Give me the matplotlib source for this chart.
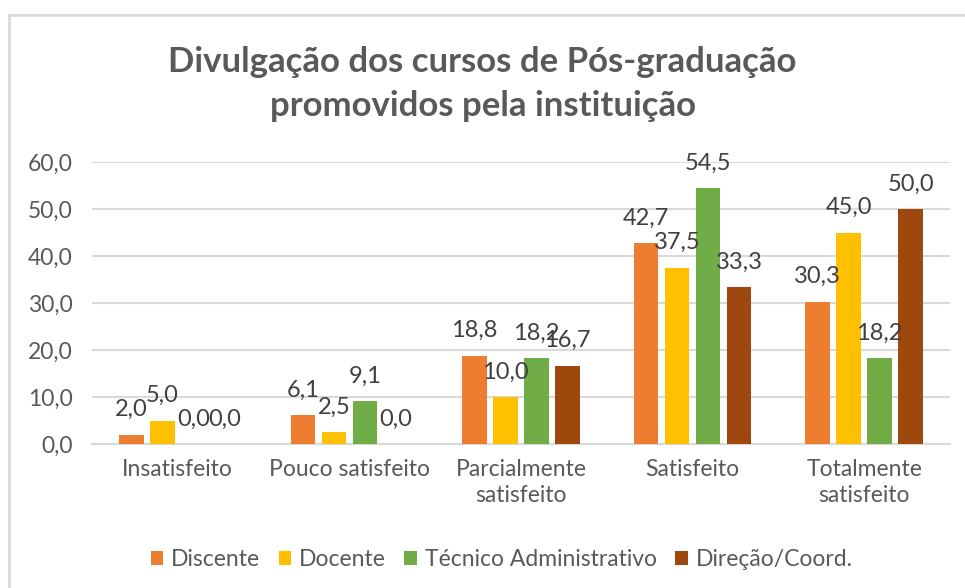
import numpy             as np
import matplotlib.pyplot as plt

from matplotlib.lines import Line2D

CATEGORIAS = ['Insatisfeito', 'Pouco satisfeito', 'Parcialmente\nsatisfeito',
              'Satisfeito', 'Totalmente\nsatisfeito']

DISCENTE  = [2.0, 6.1, 18.8, 42.7, 30.3]
DOCENTE   = [5.0, 2.5, 10.0, 37.5, 45.0]
TECNICO   = [0.0, 9.1, 18.2, 54.5, 18.2]
DIRECAO   = [0.0, 0.0, 16.7, 33.3, 50.0]

SERIES    = ['Discente', 'Docente', 'Técnico Administrativo', 'Direção/Coord.']
CORES     = ['#ED7D31', '#FFC000', '#70AD47', '#9E480E']

Y_TICKS   = [0, 10, 20, 30, 40, 50, 60]

TITULO    = 'Divulgação dos cursos de Pós-graduação\npromovidos pela instituição'

TEXTO_COR = '#595959'
LABEL_COR = '#404040'
GRADE_COR = '#D9D9D9'

FONTE     = 16.5

plt.rcParams['font.family'] = ['Lato', 'DejaVu Sans']


def fmt(v):
    return f'{v:.1f}'.replace('.', ',')


def plot_chart():

    fig = plt.figure(figsize=(9.65, 5.88), dpi=100)
    ax  = fig.add_axes([92 / 965, 1 - 444 / 588, (950 - 92) / 965, (444 - 162) / 588])

    valores = [DISCENTE, DOCENTE, TECNICO, DIRECAO]
    x       = np.arange(len(CATEGORIAS))
    passo   = 0.1805
    largura = 0.143

    for i, (serie, vals, cor) in enumerate(zip(SERIES, valores, CORES)):
        pos  = x + (i - 1.5) * passo
        bars = ax.bar(pos, vals, width=largura, color=cor, label=serie, zorder=3)
        for b, v in zip(bars, vals):
            ax.annotate(
                fmt(v),
                xy         = (b.get_x() + b.get_width() / 2, v),
                xytext     = (0, 18),
                textcoords = 'offset points',
                ha         = 'center',
                va         = 'center',
                fontsize   = 17,
                color      = LABEL_COR,
                zorder     = 4
            )

    ax.set_xlim(-0.5, len(CATEGORIAS) - 0.5)
    ax.set_ylim(0, 60)
    ax.set_yticks(Y_TICKS)
    ax.set_yticklabels([fmt(v) for v in Y_TICKS])
    ax.set_xticks(x)
    ax.set_xticklabels(CATEGORIAS, linespacing=1.3)

    ax.tick_params(axis='y', length=0, pad=14, labelsize=FONTE, labelcolor=TEXTO_COR)
    ax.tick_params(axis='x', length=0, pad=11, labelsize=FONTE, labelcolor=TEXTO_COR)

    ax.grid(axis='y', color=GRADE_COR, linewidth=1.5, zorder=0)
    for lado in ['top', 'right', 'left']:
        ax.spines[lado].set_visible(False)
    ax.spines['bottom'].set_color(GRADE_COR)
    ax.spines['bottom'].set_linewidth(1.5)

    fig.text(0.5, 1 - 84 / 588, TITULO, ha='center', va='center',
             fontsize=25, fontweight='bold', color=TEXTO_COR, linespacing=1.45)

    fig.legend(
        loc            = 'center',
        bbox_to_anchor = (0.52, 1 - 560 / 588),
        ncol           = 4,
        frameon        = False,
        fontsize       = FONTE,
        labelcolor     = TEXTO_COR,
        handlelength   = 0.55,
        handleheight   = 0.55,
        handletextpad  = 0.35,
        columnspacing  = 0.8
    )

    # borda do gráfico
    fig.add_artist(Line2D([9 / 965, 9 / 965], [0, 1 - 15 / 588],
                          color=GRADE_COR, linewidth=2, transform=fig.transFigure))
    fig.add_artist(Line2D([9 / 965, 1], [1 - 15 / 588, 1 - 15 / 588],
                          color=GRADE_COR, linewidth=2, transform=fig.transFigure))

    fig.savefig('out.png', dpi=100, facecolor='white')
    plt.close(fig)


if __name__ == '__main__':
    plot_chart()
